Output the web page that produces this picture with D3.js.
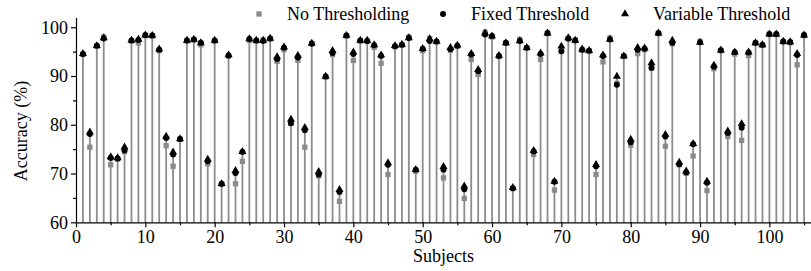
<!DOCTYPE html>
<html>
<head>
<meta charset="utf-8">
<script src="https://cdn.jsdelivr.net/npm/d3@7"></script>
<style>
  body { margin: 0; background: #fff; }
  svg text { font-family: "Liberation Serif", "Times New Roman", serif; }
</style>
</head>
<body>
<script>
	// accuracy per subject
	var subjects = d3.range(1, 106);

	var noThreshold = [94.4, 75.4, 96.1, 98.0, 71.8, 73.0, 74.5, 97.2, 96.8, 98.3,
		98.2, 95.2, 75.7, 71.5, 77.0, 97.2, 97.4, 96.4, 72.0, 97.2,
		67.8, 94.1, 67.9, 72.5, 97.3, 97.2, 97.4, 97.6, 93.0, 95.4,
		80.3, 93.2, 75.4, 96.7, 69.5, 89.8, 94.4, 64.3, 98.2, 93.2,
		97.2, 97.1, 95.9, 92.6, 69.8, 96.0, 96.3, 98.0, 70.5, 95.2,
		97.7, 97.0, 69.1, 95.3, 96.1, 64.9, 93.4, 90.3, 99.0, 98.0,
		94.0, 96.7, 66.9, 97.5, 95.7, 73.9, 93.4, 98.7, 66.6, 95.1,
		97.6, 97.4, 95.3, 95.1, 69.8, 92.9, 97.8, 88.5, 94.0, 75.8,
		94.6, 95.4, 91.6, 98.7, 75.6, 96.6, 71.8, 70.1, 73.6, 97.1,
		66.5, 91.5, 95.2, 77.6, 94.5, 76.8, 94.2, 96.7, 96.3, 98.5,
		98.5, 97.0, 96.8, 92.3, 98.3];

	var fixedThreshold = [94.5, 78.1, 96.2, 97.7, 73.2, 73.1, 74.7, 97.3, 97.4, 98.4,
		98.3, 95.4, 77.3, 73.9, 77.1, 97.3, 97.5, 96.8, 72.5, 97.3,
		67.9, 94.2, 70.1, 74.4, 97.6, 97.3, 97.2, 97.7, 93.5, 95.8,
		80.3, 93.8, 78.9, 96.6, 69.8, 89.9, 94.7, 66.2, 98.3, 94.5,
		97.3, 97.2, 96.3, 94.1, 71.8, 96.1, 96.4, 97.8, 70.8, 95.6,
		97.2, 97.1, 70.8, 95.5, 96.2, 66.8, 94.4, 91.0, 98.5, 98.2,
		94.1, 96.8, 67.0, 97.2, 95.8, 74.5, 94.5, 98.8, 68.3, 95.1,
		97.7, 97.3, 95.4, 95.2, 71.5, 94.1, 97.5, 88.2, 94.1, 76.4,
		95.4, 95.6, 91.7, 98.8, 77.6, 96.8, 71.9, 70.2, 76.0, 96.9,
		68.1, 91.9, 95.3, 78.3, 94.9, 79.4, 94.8, 96.8, 96.4, 98.6,
		98.6, 97.1, 97.0, 94.3, 98.4];

	var variableThreshold = [94.6, 78.5, 96.2, 97.8, 73.4, 73.2, 75.4, 97.3, 97.5, 98.4,
		98.3, 95.5, 77.6, 74.4, 77.1, 97.3, 97.5, 96.8, 72.9, 97.3,
		67.9, 94.3, 70.6, 74.5, 97.6, 97.3, 97.3, 97.7, 93.9, 95.9,
		81.1, 94.2, 79.4, 96.7, 70.4, 89.9, 95.2, 66.7, 98.3, 94.9,
		97.3, 97.3, 96.4, 94.3, 72.2, 96.2, 96.5, 97.8, 70.8, 95.6,
		97.6, 97.1, 71.4, 95.8, 96.3, 67.4, 94.6, 91.3, 98.8, 98.2,
		94.2, 96.8, 67.1, 97.2, 95.8, 74.7, 94.7, 98.8, 68.4, 96.1,
		97.8, 97.3, 95.5, 95.2, 71.8, 94.3, 97.5, 89.9, 94.1, 77.0,
		95.8, 95.7, 92.7, 98.8, 78.0, 97.3, 72.3, 70.5, 76.1, 96.9,
		68.4, 92.2, 95.3, 78.7, 94.9, 80.2, 94.9, 96.8, 96.4, 98.6,
		98.6, 97.1, 97.0, 94.6, 98.4];

	var xMajorTicks = [0, 10, 20, 30, 40, 50, 60, 70, 80, 90, 100];
	var xMinorTicks = [5, 15, 25, 35, 45, 55, 65, 75, 85, 95, 105];
	var yMajorTicks = [60, 70, 80, 90, 100];
	var yMinorTicks = [65, 75, 85, 95];

	var legendNames = ["No Thresholding", "Fixed Threshold", "Variable Threshold"];

	var stemColor = "#8c8c8c";
	var squareColor = "#8a8a8a";

	var svg = d3.select("body").append("svg")
		.attr("width", 811)
		.attr("height", 271);

	var x = d3.scaleLinear().domain([0, 106]).range([76, 811]);
	var y = d3.scaleLinear().domain([60, 102]).range([222.3, 17.5]);

	// stems first so the markers sit on top
	svg.append("g").selectAll("line")
		.data(subjects)
		.enter().append("line")
		.attr("x1", function(d){ return x(d); })
		.attr("x2", function(d){ return x(d); })
		.attr("y1", y(60))
		.attr("y2", function(d, i){
			return y(Math.max(noThreshold[i], fixedThreshold[i], variableThreshold[i]));
		})
		.attr("stroke", stemColor)
		.attr("stroke-width", 1.8);

	// axes
	var xAxis = svg.append("g").attr("transform", "translate(0," + y(60) + ")");
	xAxis.call(d3.axisBottom(x).tickValues(xMajorTicks).tickSize(5).tickSizeOuter(0).tickPadding(3));
	xAxis.append("g").call(d3.axisBottom(x).tickValues(xMinorTicks).tickSize(3).tickFormat("")).select(".domain").remove();

	var yAxis = svg.append("g").attr("transform", "translate(" + x(0) + ",0)");
	yAxis.call(d3.axisLeft(y).tickValues(yMajorTicks).tickSize(5).tickSizeOuter(0).tickPadding(3));
	yAxis.append("g").call(d3.axisLeft(y).tickValues(yMinorTicks).tickSize(3).tickFormat("")).select(".domain").remove();

	svg.selectAll(".tick text").attr("font-size", 18).attr("fill", "#000")
		.attr("font-family", "Liberation Serif");
	svg.selectAll(".domain").attr("stroke", "#000").attr("stroke-width", 1.2);
	svg.selectAll(".tick line").attr("stroke", "#000").attr("stroke-width", 1.2);

	// markers
	var squareSym = d3.symbol().type(d3.symbolSquare).size(28);
	var circleSym = d3.symbol().type(d3.symbolCircle).size(28);
	var triangleSym = d3.symbol().type(d3.symbolTriangle).size(28);

	svg.append("g").selectAll("path")
		.data(subjects)
		.enter().append("path")
		.attr("d", squareSym)
		.attr("transform", function(d, i){ return "translate(" + x(d) + "," + y(noThreshold[i]) + ")"; })
		.attr("fill", squareColor);

	svg.append("g").selectAll("path")
		.data(subjects)
		.enter().append("path")
		.attr("d", circleSym)
		.attr("transform", function(d, i){ return "translate(" + x(d) + "," + y(fixedThreshold[i]) + ")"; })
		.attr("fill", "#000");

	svg.append("g").selectAll("path")
		.data(subjects)
		.enter().append("path")
		.attr("d", triangleSym)
		.attr("transform", function(d, i){ return "translate(" + x(d) + "," + y(variableThreshold[i]) + ")"; })
		.attr("fill", "#000");

	// axis titles
	svg.append("text")
		.attr("x", (x(0) + 811) / 2)
		.attr("y", 262)
		.attr("text-anchor", "middle")
		.attr("font-size", 18)
		.text("Subjects");

	svg.append("text")
		.attr("transform", "translate(27,131) rotate(-90)")
		.attr("text-anchor", "middle")
		.attr("font-size", 18)
		.text("Accuracy (%)");

	// legend
	var legendX = [259, 443, 625];
	var legendSyms = [squareSym, circleSym, triangleSym];
	var legendFill = [squareColor, "#000", "#000"];
	for(var k = 0; k < legendNames.length; k++){
		svg.append("path")
			.attr("d", legendSyms[k])
			.attr("transform", "translate(" + legendX[k] + ",14)")
			.attr("fill", legendFill[k]);
		svg.append("text")
			.attr("x", legendX[k] + 28)
			.attr("y", 14)
			.attr("dy", ".35em")
			.attr("font-size", 18)
			.text(legendNames[k]);
	}
</script>
</body>
</html>
